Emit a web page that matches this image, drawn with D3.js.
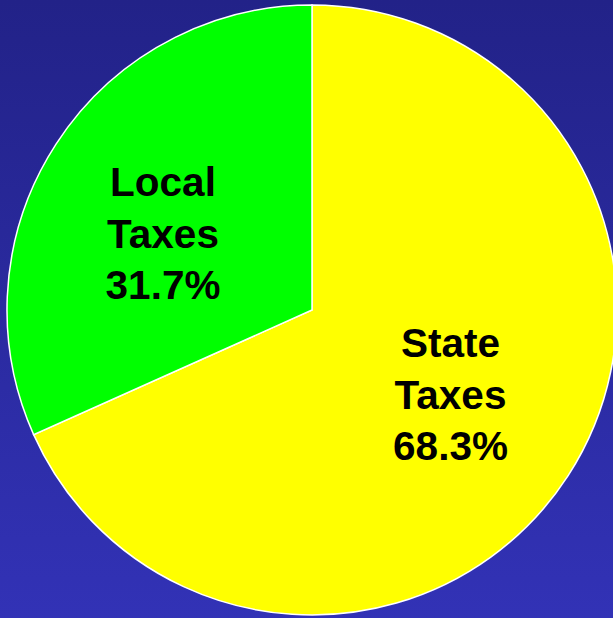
<!DOCTYPE html>
<html><head><meta charset="utf-8">
<script src="https://cdn.jsdelivr.net/npm/d3@7"></script>
<style>html,body{margin:0;padding:0;overflow:hidden;}</style>
</head><body>
<script>
const categories = ["State Taxes", "Local Taxes"];
const values = [68.3, 31.7];
const labelLines = [["State", "Taxes", "68.3%"], ["Local", "Taxes", "31.7%"]];
const colors = ["#ffff00", "#00ff00"];

const W = 613, H = 618;
const svg = d3.select("body").append("svg").attr("width", W).attr("height", H);
const defs = svg.append("defs");
const g = defs.append("linearGradient").attr("id", "bg").attr("x1", 0).attr("y1", 0).attr("x2", 0).attr("y2", 1);
g.append("stop").attr("offset", "0%").attr("stop-color", "#222288");
g.append("stop").attr("offset", "100%").attr("stop-color", "#3232b6");
svg.append("rect").attr("width", W).attr("height", H).attr("fill", "url(#bg)");

const cx = 312, cy = 310, r = 305;
const pie = d3.pie().sort(null).value(d => d);
const arcs = pie(values);
const arc = d3.arc().innerRadius(0).outerRadius(r);
const root = svg.append("g").attr("transform", `translate(${cx},${cy})`);
root.selectAll("path").data(arcs).join("path")
  .attr("d", arc)
  .attr("fill", (d, i) => colors[i])
  .attr("stroke", "#ffffff")
  .attr("stroke-width", 1.5);

const labelPos = [[138.5, 47], [-149, -114]];
arcs.forEach((d, i) => {
  const t = root.append("text")
    .attr("text-anchor", "middle")
    .attr("font-family", "Liberation Sans, Arial, sans-serif")
    .attr("font-weight", "bold")
    .attr("font-size", 40.5)
    .attr("fill", "#000");
  labelLines[i].forEach((line, j) => {
    t.append("tspan").attr("x", labelPos[i][0]).attr("y", labelPos[i][1] + j * 51.5).text(line);
  });
});
</script>
</body></html>
